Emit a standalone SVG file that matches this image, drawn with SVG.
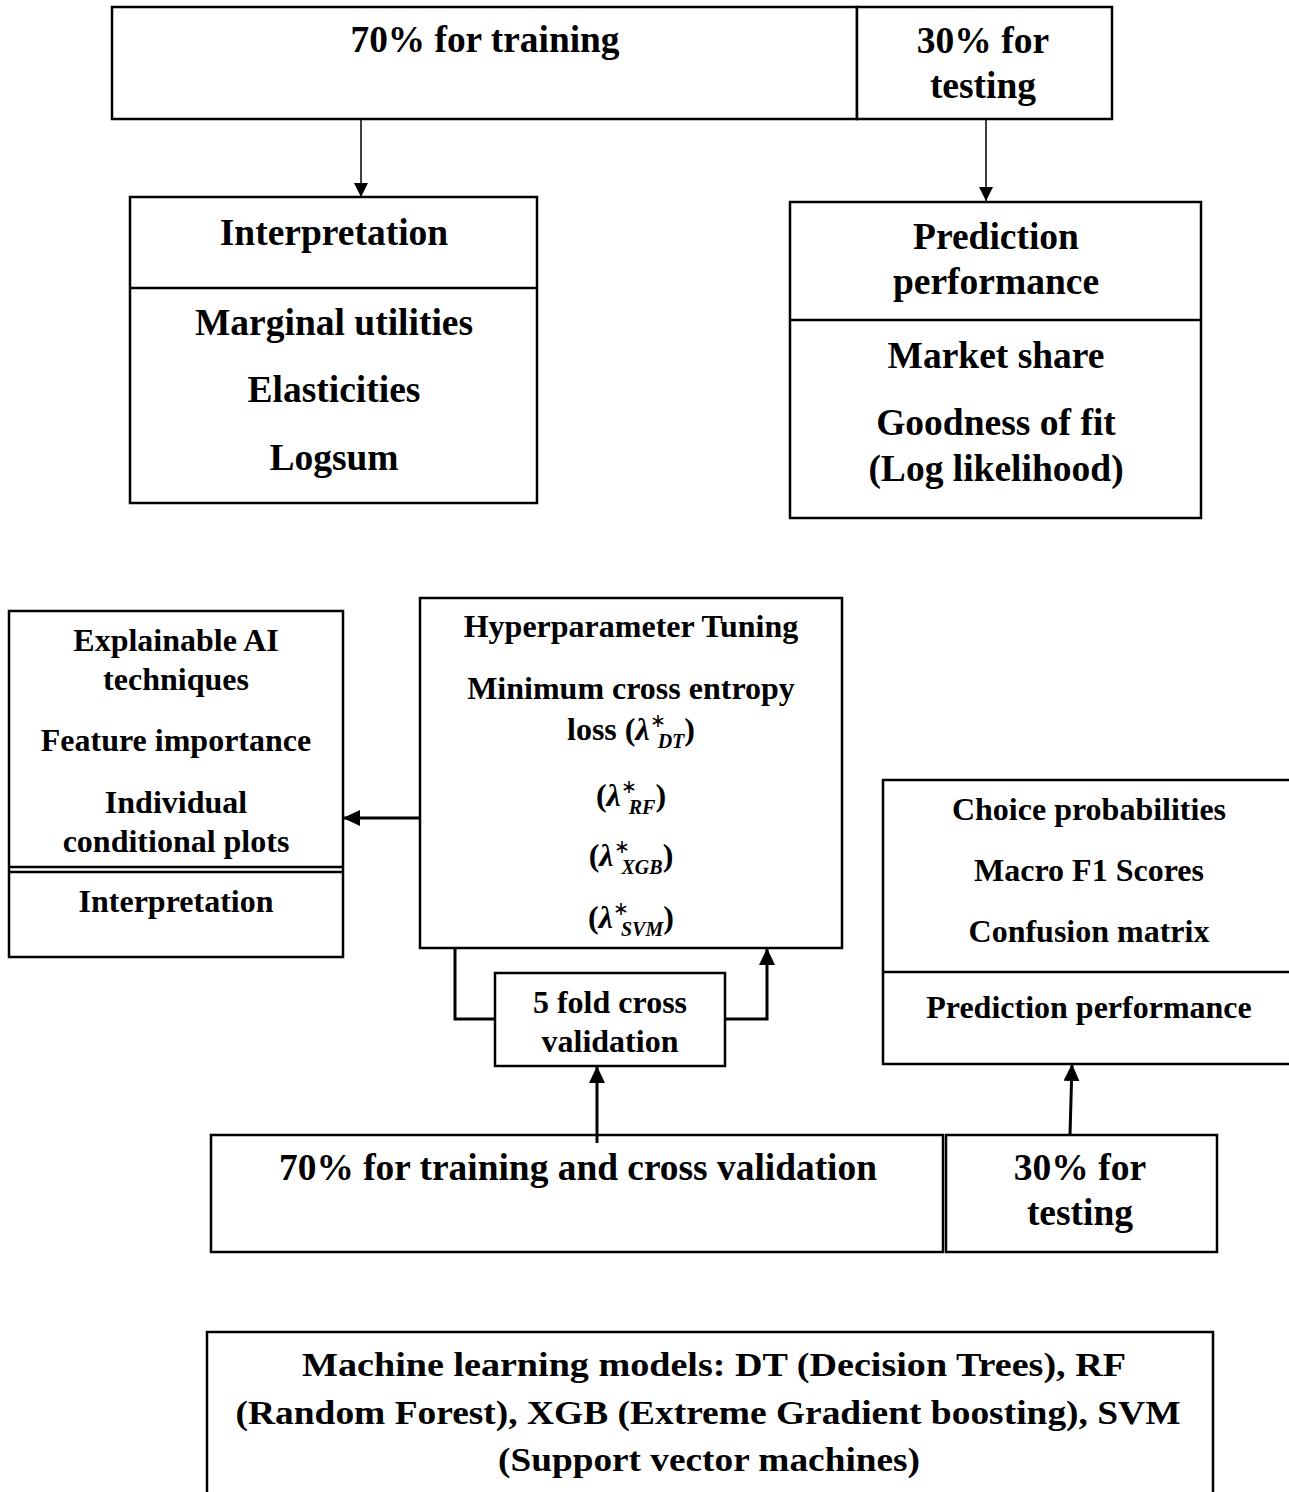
<svg xmlns="http://www.w3.org/2000/svg" width="1289" height="1492" viewBox="0 0 1289 1492" font-family="Liberation Serif, Times New Roman, serif">
<style>
.box{fill:#fff;stroke:#000;stroke-width:2.5}
.ln{fill:none;stroke:#000;stroke-width:2.5}
.thin{fill:none;stroke:#000;stroke-width:1.5}
.thick{fill:none;stroke:#000;stroke-width:3}
text{font-family:'Liberation Serif',serif;font-weight:700;text-anchor:middle;fill:#000}
.L{font-size:37.5px}
.M{font-size:32px}
.X{font-size:34px}
.it{font-style:italic}
.sm{font-size:20px;font-style:italic}
.st{font-size:19px;font-weight:400}
</style>
<defs>
<marker id="ah" markerUnits="userSpaceOnUse" markerWidth="14" markerHeight="16" refX="14" refY="7" orient="auto">
<path d="M0,0 L14,7 L0,14 Z" fill="#000"/>
</marker>
<marker id="ahb" markerUnits="userSpaceOnUse" markerWidth="18" markerHeight="18" refX="17" refY="8" orient="auto">
<path d="M0,0 L17,8 L0,16 Z" fill="#000"/>
</marker>
</defs>

<g id="top-train">
<rect class="box" x="112" y="7" width="745" height="112"/>
<text class="L" x="485" y="52" textLength="269" lengthAdjust="spacingAndGlyphs">70% for training</text>
</g>
<g id="top-test">
<rect class="box" x="857" y="7" width="255" height="112"/>
<text class="L" x="983" y="53">30% for</text>
<text class="L" x="983" y="98">testing</text>
</g>

<g id="interp-top">
<rect class="box" x="130" y="197" width="407" height="306"/>
<line class="ln" x1="130" y1="288" x2="537" y2="288" stroke-width="3"/>
<text class="L" x="334" y="245">Interpretation</text>
<text class="L" x="334" y="335">Marginal utilities</text>
<text class="L" x="334" y="402">Elasticities</text>
<text class="L" x="334" y="470">Logsum</text>
</g>

<g id="pred-top">
<rect class="box" x="790" y="202" width="411" height="316"/>
<line class="ln" x1="790" y1="320" x2="1201" y2="320" stroke-width="3"/>
<text class="L" x="996" y="249">Prediction</text>
<text class="L" x="996" y="294">performance</text>
<text class="L" x="996" y="368">Market share</text>
<text class="L" x="996" y="435">Goodness of fit</text>
<text class="L" x="996" y="481">(Log likelihood)</text>
</g>

<g id="xai">
<rect class="box" x="9" y="611" width="334" height="346"/>
<line class="ln" x1="9" y1="867" x2="343" y2="867" stroke-width="2"/>
<line class="ln" x1="9" y1="872" x2="343" y2="872" stroke-width="2"/>
<text class="M" x="176" y="651">Explainable AI</text>
<text class="M" x="176" y="690">techniques</text>
<text class="M" x="176" y="751">Feature importance</text>
<text class="M" x="176" y="813">Individual</text>
<text class="M" x="176" y="852">conditional plots</text>
<text class="M" x="176" y="912">Interpretation</text>
</g>

<g id="hyper">
<rect class="box" x="420" y="598" width="422" height="350"/>
<text class="M" x="631" y="637">Hyperparameter Tuning</text>
<text class="M" x="631" y="699">Minimum cross entropy</text>
<text class="M" x="631" y="740">loss (<tspan class="it">λ</tspan><tspan class="st" dy="-13">∗</tspan><tspan class="sm" dx="-8" dy="21">DT</tspan><tspan dy="-8">)</tspan></text>
<text class="M" x="631" y="806">(<tspan class="it">λ</tspan><tspan class="st" dy="-13">∗</tspan><tspan class="sm" dx="-8" dy="21">RF</tspan><tspan dy="-8">)</tspan></text>
<text class="M" x="631" y="866">(<tspan class="it">λ</tspan><tspan class="st" dy="-13">∗</tspan><tspan class="sm" dx="-8" dy="21">XGB</tspan><tspan dy="-8">)</tspan></text>
<text class="M" x="631" y="928">(<tspan class="it">λ</tspan><tspan class="st" dy="-13">∗</tspan><tspan class="sm" dx="-8" dy="21">SVM</tspan><tspan dy="-8">)</tspan></text>
</g>

<g id="cv">
<rect class="box" x="495" y="973" width="230" height="93"/>
<text class="M" x="610" y="1013">5 fold cross</text>
<text class="M" x="610" y="1052">validation</text>
</g>

<g id="choice">
<rect class="box" x="883" y="780" width="420" height="284"/>
<line class="ln" x1="883" y1="972" x2="1289" y2="972" stroke-width="3"/>
<text class="M" x="1089" y="820">Choice probabilities</text>
<text class="M" x="1089" y="881">Macro F1 Scores</text>
<text class="M" x="1089" y="942">Confusion matrix</text>
<text class="M" x="1089" y="1018">Prediction performance</text>
</g>

<g id="bottom-train">
<rect class="box" x="211" y="1135" width="732" height="117"/>
<text class="L" x="578" y="1180" textLength="598" lengthAdjust="spacingAndGlyphs">70% for training and cross validation</text>
</g>
<g id="bottom-test">
<rect class="box" x="946" y="1135" width="271" height="117"/>
<text class="L" x="1080" y="1180">30% for</text>
<text class="L" x="1080" y="1225">testing</text>
</g>

<g id="ml">
<rect class="box" x="207" y="1332" width="1006" height="175"/>
<text class="X" x="714" y="1376" textLength="824" lengthAdjust="spacingAndGlyphs">Machine learning models: DT (Decision Trees), RF</text>
<text class="X" x="708" y="1424" textLength="945" lengthAdjust="spacingAndGlyphs">(Random Forest), XGB (Extreme Gradient boosting), SVM</text>
<text class="X" x="709" y="1471" textLength="422" lengthAdjust="spacingAndGlyphs">(Support vector machines)</text>
</g>

<g id="connectors">
<line class="thin" x1="361" y1="119" x2="361" y2="197" marker-end="url(#ah)"/>
<line class="thin" x1="986" y1="119" x2="986" y2="201" marker-end="url(#ah)"/>
<line class="thick" x1="420" y1="818" x2="343" y2="818" marker-end="url(#ahb)"/>
<polyline class="thick" points="455,948 455,1019 495,1019"/>
<polyline class="thick" points="725,1019 767,1019 767,948" marker-end="url(#ahb)"/>
<line class="thick" x1="597" y1="1143" x2="597" y2="1066" marker-end="url(#ahb)"/>
<line class="thick" x1="1070" y1="1135" x2="1072" y2="1064" marker-end="url(#ahb)"/>
</g>
</svg>
